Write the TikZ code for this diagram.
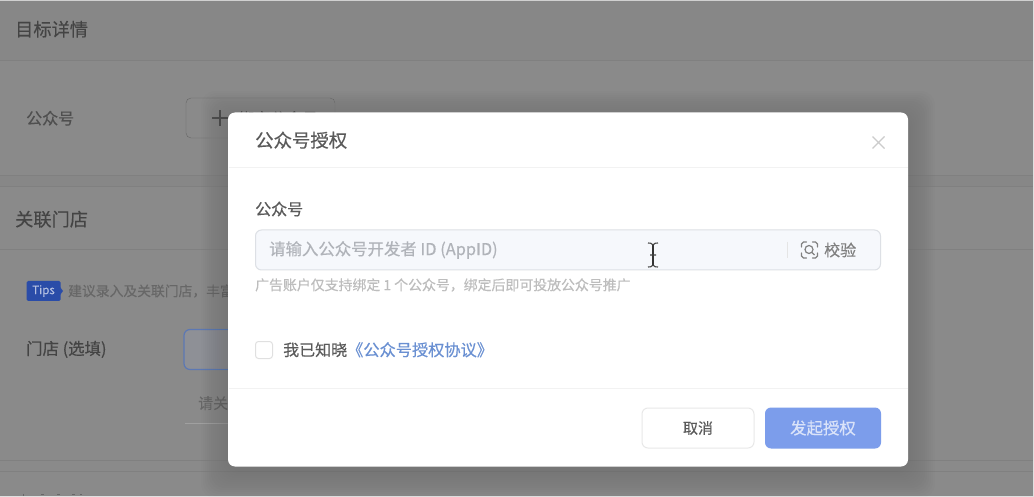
\documentclass[tikz,border=0pt]{standalone}
\usepackage{fontspec}
\setmainfont[FakeBold=0.35]{Noto Sans CJK SC}
\usetikzlibrary{calc}
\definecolor{bgA}{HTML}{878787}
\definecolor{bgB}{HTML}{8A8A8A}
\definecolor{bgLine}{HTML}{808080}
\definecolor{inkDim}{HTML}{444444}
\definecolor{inkMain}{HTML}{5A5A5A}
\definecolor{inkHint}{HTML}{BDBDBD}
\definecolor{inkPh}{HTML}{B0B3B9}
\definecolor{fieldFill}{HTML}{F6F8FC}
\definecolor{fieldLine}{HTML}{DDE0E5}
\definecolor{linkBlue}{HTML}{6A90D2}
\definecolor{btnBlue}{HTML}{7C9DEB}
\definecolor{tipsBlue}{HTML}{2A4CA8}
\definecolor{storeLine}{HTML}{5C78B4}
\definecolor{storeFill}{HTML}{8E9096}
\tikzset{
  x=1pt,y=-1pt,
  txt/.style={inner sep=0pt,anchor=west,font=\fontsize{#1}{#1}\selectfont},
  txt/.default=16,
  softline/.style={line width=0.8pt,draw=#1},
}
\begin{document}
\begin{tikzpicture}
\useasboundingbox (0,0) rectangle (1034,497);
% page backdrop
\fill[bgB] (0,0) rectangle (1034,497);
\fill[bgA] (0,1) rectangle (1034,60);
\fill[bgA] (0,175) rectangle (1034,186);
\draw[softline=bgLine] (0,60.5) -- (1034,60.5);
\draw[softline=bgLine] (0,175.5) -- (1034,175.5);
\draw[softline=bgLine] (0,186.5) -- (1034,186.5);
\draw[softline=bgLine] (0,249.5) -- (1034,249.5);
\draw[softline=bgLine] (0,460.5) -- (1034,460.5);
\draw[softline=bgLine] (0,471.5) -- (1034,471.5);
% page content
\node[txt=18.2,text=inkDim] (t1) at (15,29.2) {目标详情};
\node[txt=16,text=inkDim!85!bgB] (t2) at (26,118.2) {公众号};
\node[draw=bgLine!80!black,rounded corners=5pt,minimum width=149pt,minimum height=40pt,inner sep=0pt] (addbtn) at (260.5,118) {};
\draw[line width=1.4pt,draw=inkDim!80!bgB] (212,118) -- (228,118) (220,110) -- (220,126);
\node[txt=16,text=inkDim!80!bgB] (t8) at (238,118.5) {绑定公众号};
\node[txt=18.2,text=inkDim] (t3) at (15,219.2) {关联门店};
\node[fill=tipsBlue,rounded corners=1.5pt,minimum width=34pt,minimum height=20pt,inner sep=0pt,text=white!65!tipsBlue,font=\fontsize{11.5}{11.5}\selectfont] (tips) at (43.5,291) {Tips};
\fill[tipsBlue] (60,287) -- (63,291) -- (60,295) -- cycle;
\node[txt=13.8,text=inkDim!50!bgB] (t4) at (68,291) {建议录入及关联门店，丰富};
\node[txt=16.4,text=inkDim] (t5) at (26,349.4) {门店 (选填)};
\node[draw=storeLine,fill=storeFill,line width=1.2pt,rounded corners=6pt,minimum width=90pt,minimum height=40pt,inner sep=0pt] (storebox) at (229,349.5) {};
\node[txt=15,text=inkDim!50!bgB] (t6) at (198,403.2) {请关联};
\draw[softline=bgLine!75!white] (185,423.5) -- (240,423.5);
% cut-off text at the lower page edge
\draw[line width=1pt,draw=bgB!75!black] (23,493.5) -- (23,495.5) (41,494) -- (44,494) (57,494) -- (60,494) (72,494) -- (75,494) (80,494) -- (82,494);
\fill[white!88!black] (0,495.5) rectangle (1034,497);
\fill[white!88!black] (1032.5,0) rectangle (1034,497);
\fill[white!60!bgB] (0,0) rectangle (1034,0.8);
% shadow
\foreach \g in {1,3,...,27}{
  \fill[black,opacity=0.008,rounded corners=14pt] (228-\g,113-\g+5) rectangle (908+\g,466+\g+5);
}
% dialog
\node[fill=white,rounded corners=7pt,minimum width=680pt,minimum height=354pt,inner sep=0pt] (dlg) at (568,289.5) {};
\draw[line width=0.8pt,draw=black!5] (228.5,167.5) -- (907.5,167.5);
\draw[line width=0.8pt,draw=black!5] (228.5,388.5) -- (907.5,388.5);
\node[txt=18.4,text=inkMain] (dt) at (255,140.2) {公众号授权};
\coordinate (xc) at (878.5,142.5);
\draw[line width=1.1pt,draw=black!20] ($(xc)+(-6,-6)$) -- ($(xc)+(6,6)$) ($(xc)+(-6,6)$) -- ($(xc)+(6,-6)$);
\node[txt=16,text=inkMain] (fl) at (255,209) {公众号};
\node[fill=fieldFill,draw=fieldLine,line width=1pt,rounded corners=6pt,minimum width=625pt,minimum height=40pt,inner sep=0pt] (field) at (568,250) {};
\node[txt=16.4,text=inkPh] (ph) at (269,250) {请输入公众号开发者 ID (AppID)};
\draw[line width=0.8pt,draw=black!10] (787,242) -- (787,258);
% scan icon
\coordinate (sc) at (809.5,250);
\draw[line width=1.2pt,draw=black!50,line cap=round]
  ($(sc)+(-8,-3)$) -- ($(sc)+(-8,-6)$) -- ($(sc)+(-6,-8)$) -- ($(sc)+(-3,-8)$)
  ($(sc)+(3,-8)$) -- ($(sc)+(6,-8)$) -- ($(sc)+(8,-6)$) -- ($(sc)+(8,-3)$)
  ($(sc)+(-8,3)$) -- ($(sc)+(-8,6)$) -- ($(sc)+(-6,8)$) -- ($(sc)+(-3,8)$)
  ($(sc)+(3,8)$) -- ($(sc)+(6,8)$) -- ($(sc)+(8,6)$) -- ($(sc)+(8,3)$);
\draw[line width=1.2pt,draw=black!50] ($(sc)+(-0.5,-0.5)$) circle (4pt) ($(sc)+(2.5,2.5)$) -- ($(sc)+(5,5)$);
\node[txt=16,text=black!50] (vf) at (824,250) {校验};
% text cursor
\coordinate (cu) at (653,255);
\draw[line width=1.8pt,draw=black!80] ($(cu)+(0,-11)$) -- ($(cu)+(0,11)$);
\draw[line width=1.1pt,draw=black!75] ($(cu)+(-5,-12)$) .. controls ($(cu)+(-2,-12)$) .. ($(cu)+(0,-10)$) .. controls ($(cu)+(2,-12)$) .. ($(cu)+(5,-12)$) ($(cu)+(-5,12)$) .. controls ($(cu)+(-2,12)$) .. ($(cu)+(0,10)$) .. controls ($(cu)+(2,12)$) .. ($(cu)+(5,12)$) ($(cu)+(-3,0)$) -- ($(cu)+(3,0)$);
\node[txt=13.9,text=inkHint] (hint) at (255,285) {广告账户仅支持绑定 1 个公众号，绑定后即可投放公众号推广};
\node[draw=black!12,line width=1pt,rounded corners=3pt,fill=white,minimum size=17pt,inner sep=0pt] (cb) at (264,350) {};
\node[txt=16,text=inkMain] (ag) at (283,349.8) {我已知晓};
\node[txt=16.2,text=linkBlue] (lk) at (347,349.8) {《公众号授权协议》};
\node[draw=black!9,line width=1pt,fill=white,rounded corners=6pt,minimum width=112pt,minimum height=40pt,inner sep=0pt,text=inkMain,font=\fontsize{15}{15}\selectfont] (cancel) at (698,428) {取消};
\node[fill=btnBlue,rounded corners=6pt,minimum width=116pt,minimum height=41pt,inner sep=0pt,text=white!72!btnBlue,font=\fontsize{16.4}{16.4}\selectfont] (ok) at (823,428) {发起授权};
\end{tikzpicture}
\end{document}
